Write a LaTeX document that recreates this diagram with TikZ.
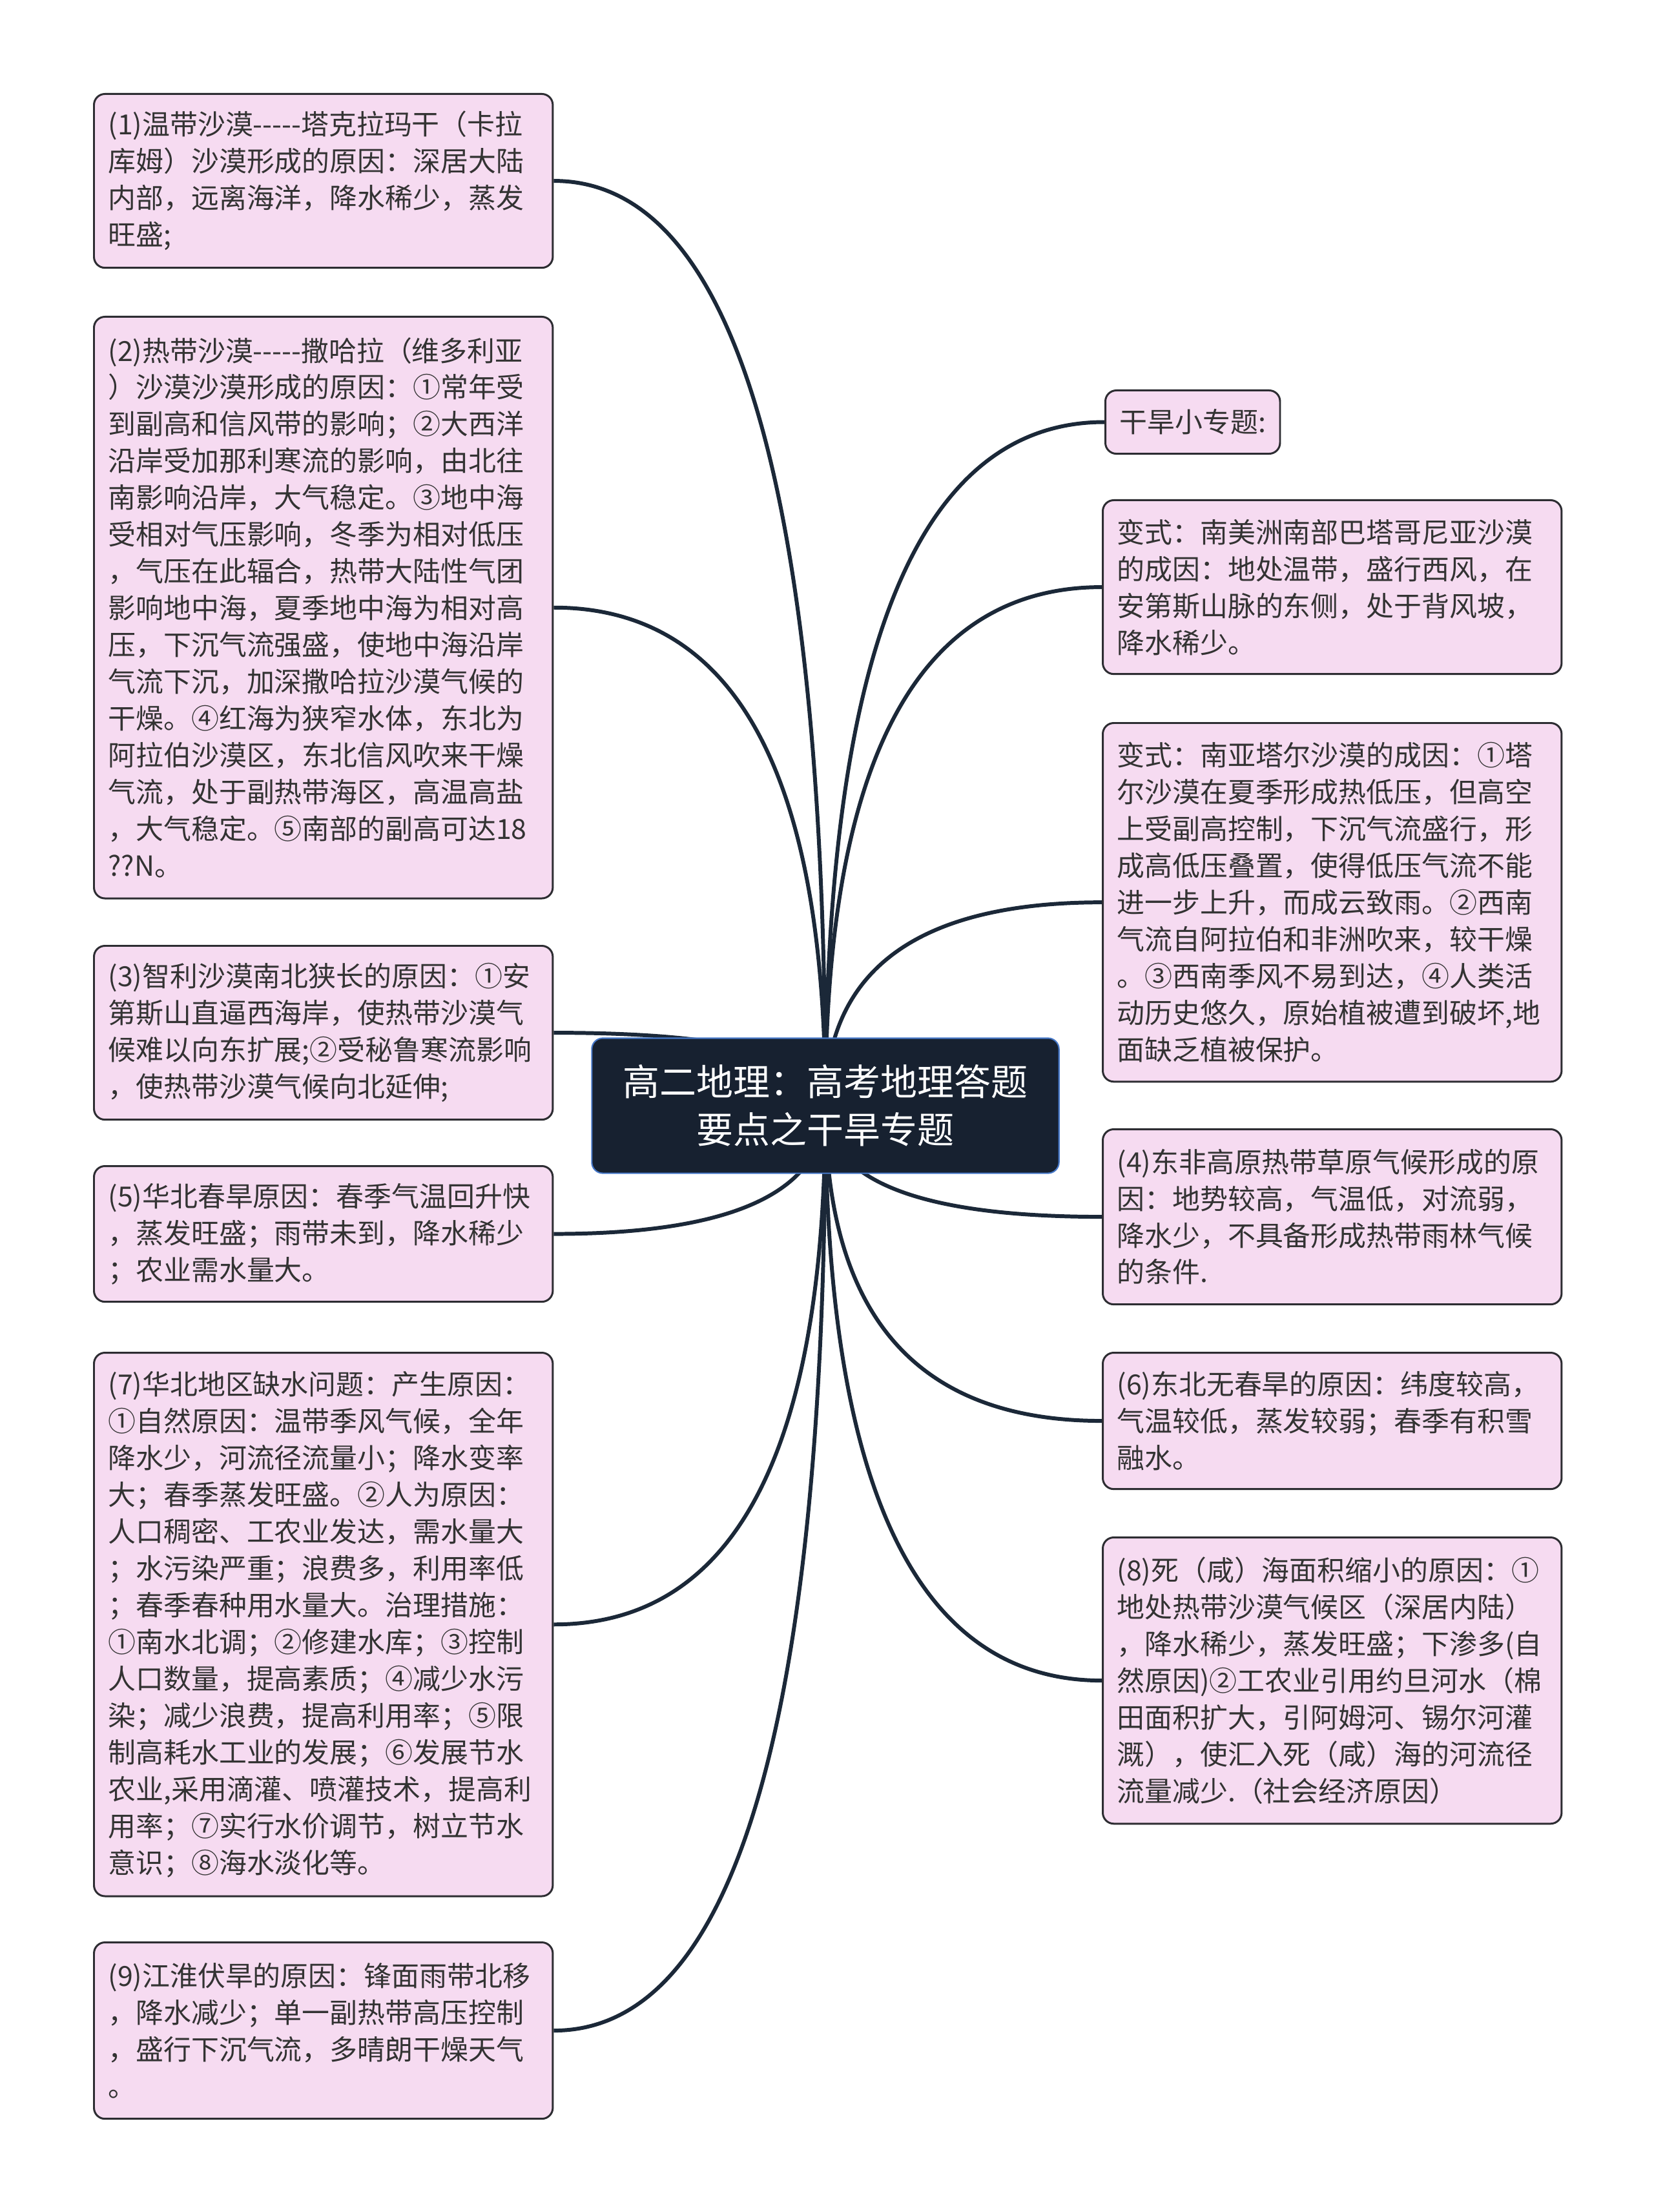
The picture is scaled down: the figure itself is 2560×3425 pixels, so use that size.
\documentclass[tikz,border=0pt]{standalone}
\usepackage{fontspec}
\setmainfont[Ligatures=TeXOff]{Noto Sans CJK SC}
\usetikzlibrary{backgrounds,calc}
\definecolor{boxpink}{RGB}{246,219,241}
\definecolor{boxline}{RGB}{45,45,50}
\definecolor{rootfill}{RGB}{23,33,48}
\definecolor{rootline}{RGB}{70,120,200}
\definecolor{linkcol}{RGB}{27,40,56}
\definecolor{txt}{RGB}{51,51,51}

\tikzset{
  topic/.style={draw=boxline, line width=0.85pt, fill=boxpink, rounded corners=0.17cm,
    text=txt, align=left, inner xsep=0.22cm, inner ysep=0pt, anchor=north west,
    font=\fontsize{12.2pt}{16.2pt}\selectfont},
  wide/.style={topic, minimum width=7.1cm, text width=6.66cm},
  rootnode/.style={draw=rootline, line width=0.6pt, fill=rootfill, rounded corners=0.17cm,
    text=white, align=center, minimum width=7.23cm, minimum height=2.09cm,
    font=\fontsize{16.2pt}{21pt}\selectfont},
  link/.style={draw=linkcol, line width=1.7pt},
  branch/.style={to path={.. controls ($(\tikztostart)!0.667!(\tikztostart |- \tikztotarget)$)
    and ($(\tikztotarget)!0.667!(\tikztostart |- \tikztotarget)$) .. (\tikztotarget)}}
}

\begin{document}
\begin{tikzpicture}[x=0.01cm, y=-0.01cm]
            \useasboundingbox (0,0) rectangle (2560,3425);

            % --- central topic ---
            \node[rootnode] (root) at (1278,1712) {高二地理：高考地理答题\\要点之干旱专题};

            % --- left column ---
            \node[wide, minimum height=2.69cm] (t1) at (144,144) {(1)温带沙漠-----塔克拉玛干（卡拉\\库姆）沙漠形成的原因：深居大陆\\内部，远离海洋，降水稀少，蒸发\\旺盛;};
            \node[wide, minimum height=9.0cm] (t2) at (144,489) {(2)热带沙漠-----撒哈拉（维多利亚\\）沙漠沙漠形成的原因：①常年受\\到副高和信风带的影响；②大西洋\\沿岸受加那利寒流的影响，由北往\\南影响沿岸，大气稳定。③地中海\\受相对气压影响，冬季为相对低压\\，气压在此辐合，热带大陆性气团\\影响地中海，夏季地中海为相对高\\压，下沉气流强盛，使地中海沿岸\\气流下沉，加深撒哈拉沙漠气候的\\干燥。④红海为狭窄水体，东北为\\阿拉伯沙漠区，东北信风吹来干燥\\气流，处于副热带海区，高温高盐\\，大气稳定。⑤南部的副高可达18\\??N。};
            \node[wide, minimum height=2.69cm] (t3) at (144,1463) {(3)智利沙漠南北狭长的原因：①安\\第斯山直逼西海岸，使热带沙漠气\\候难以向东扩展;②受秘鲁寒流影响\\，使热带沙漠气候向北延伸;};
            \node[wide, minimum height=2.10cm] (t5) at (144,1804) {(5)华北春旱原因：春季气温回升快\\，蒸发旺盛；雨带未到，降水稀少\\；农业需水量大。};
            \node[wide, minimum height=8.41cm] (t7) at (144,2093) {(7)华北地区缺水问题：产生原因：\\①自然原因：温带季风气候，全年\\降水少，河流径流量小；降水变率\\大；春季蒸发旺盛。②人为原因：\\人口稠密、工农业发达，需水量大\\；水污染严重；浪费多，利用率低\\；春季春种用水量大。治理措施：\\①南水北调；②修建水库；③控制\\人口数量，提高素质；④减少水污\\染；减少浪费，提高利用率；⑤限\\制高耗水工业的发展；⑥发展节水\\农业,采用滴灌、喷灌技术，提高利\\用率；⑦实行水价调节，树立节水\\意识；⑧海水淡化等。};
            \node[wide, minimum height=2.73cm] (t9) at (144,3006) {(9)江淮伏旱的原因：锋面雨带北移\\，降水减少；单一副热带高压控制\\，盛行下沉气流，多晴朗干燥天气\\。};

            % --- right column ---
            \node[topic, minimum width=2.62cm, minimum height=0.98cm] (sub) at (1710,603) {干旱小专题:};
            \node[wide, minimum height=2.69cm] (v1) at (1706,773) {变式：南美洲南部巴塔哥尼亚沙漠\\的成因：地处温带，盛行西风，在\\安第斯山脉的东侧，处于背风坡，\\降水稀少。};
            \node[wide, minimum height=5.55cm] (v2) at (1706,1118) {变式：南亚塔尔沙漠的成因：①塔\\尔沙漠在夏季形成热低压，但高空\\上受副高控制，下沉气流盛行，形\\成高低压叠置，使得低压气流不能\\进一步上升，而成云致雨。②西南\\气流自阿拉伯和非洲吹来，较干燥\\。③西南季风不易到达，④人类活\\动历史悠久，原始植被遭到破坏,地\\面缺乏植被保护。};
            \node[wide, minimum height=2.71cm] (t4) at (1706,1747) {(4)东非高原热带草原气候形成的原\\因：地势较高，气温低，对流弱，\\降水少，不具备形成热带雨林气候\\的条件.};
            \node[wide, minimum height=2.11cm] (t6) at (1706,2093) {(6)东北无春旱的原因：纬度较高，\\气温较低，蒸发较弱；春季有积雪\\融水。};
            \node[wide, minimum height=4.43cm] (t8) at (1706,2379) {(8)死（咸）海面积缩小的原因：①\\地处热带沙漠气候区（深居内陆）\\，降水稀少，蒸发旺盛；下渗多(自\\然原因)②工农业引用约旦河水（棉\\田面积扩大，引阿姆河、锡尔河灌\\溉），使汇入死（咸）海的河流径\\流量减少.（社会经济原因）};

            % --- branches, behind the boxes ---
            \begin{pgfonlayer}{background}
                \fill[white] (0,0) rectangle (2560,3425);
                \draw[link] (root.center) to[branch] (t1.east);
                \draw[link] (root.center) to[branch] (t2.east);
                \draw[link] (root.center) to[branch] (t3.east);
                \draw[link] (root.center) to[branch] (t5.east);
                \draw[link] (root.center) to[branch] (t7.east);
                \draw[link] (root.center) to[branch] (t9.east);
                \draw[link] (root.center) to[branch] (sub.west);
                \draw[link] (root.center) to[branch] (v1.west);
                \draw[link] (root.center) to[branch] (v2.west);
                \draw[link] (root.center) to[branch] (t4.west);
                \draw[link] (root.center) to[branch] (t6.west);
                \draw[link] (root.center) to[branch] (t8.west);
            \end{pgfonlayer}
\end{tikzpicture}
\end{document}
